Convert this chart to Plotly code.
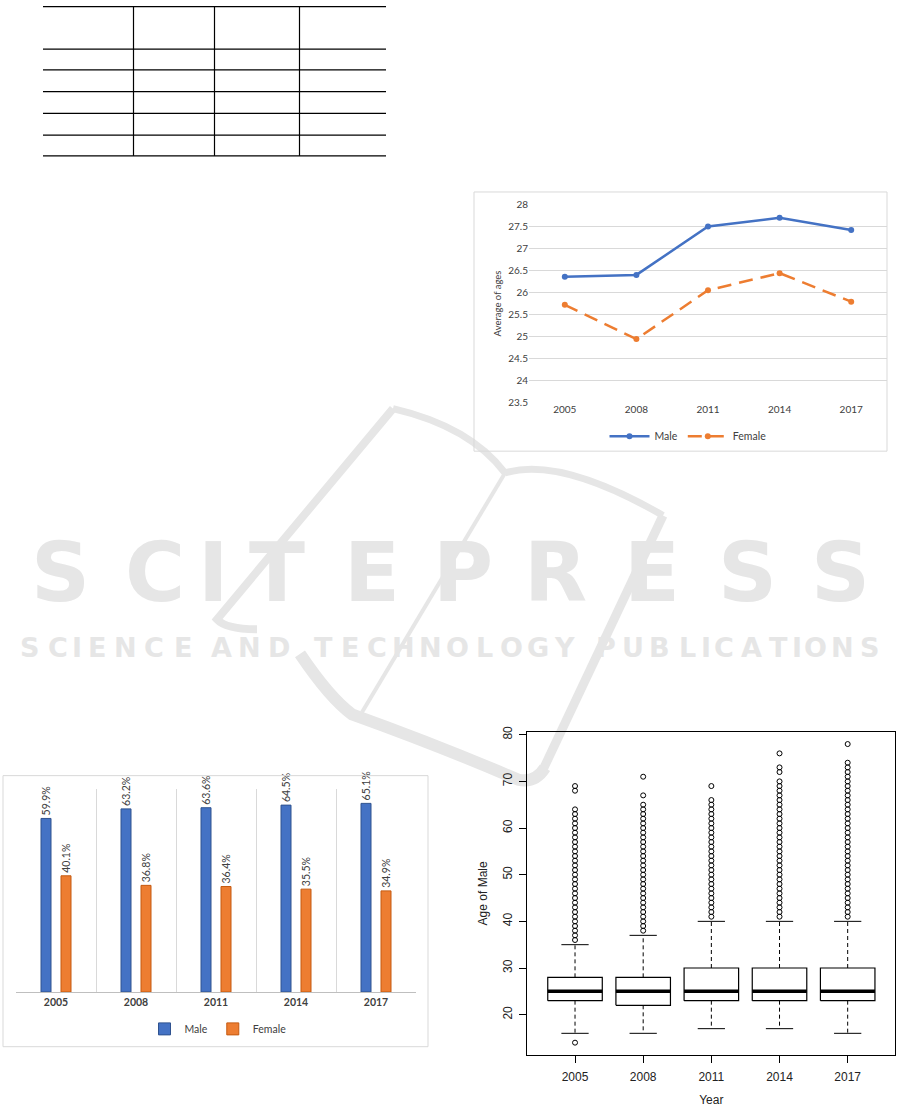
import plotly.graph_objects as go

# ---------------- data ----------------
years = ["2005", "2008", "2011", "2014", "2017"]

avg_age_male = [26.36, 26.40, 27.50, 27.70, 27.42]
avg_age_female = [25.72, 24.94, 26.05, 26.44, 25.79]

share_male = [59.9, 63.2, 63.6, 64.5, 65.1]
share_female = [40.1, 36.8, 36.4, 35.5, 34.9]

box_lower = [16, 16, 17, 17, 16]
box_q1 = [23, 22, 23, 23, 23]
box_median = [25, 25, 25, 25, 25]
box_q3 = [28, 28, 30, 30, 30]
box_upper = [35, 37, 40, 40, 40]

outliers_2005 = [14, 36, 37, 38, 39, 40, 41, 42, 43, 44, 45, 46, 47, 48, 49, 50, 51, 52, 53, 54,
                 55, 56, 57, 58, 59, 60, 61, 62, 63, 64, 68, 69]
outliers_2008 = [38, 39, 40, 41, 42, 43, 44, 45, 46, 47, 48, 49, 50, 51, 52, 53, 54, 55, 56, 57,
                 58, 59, 60, 61, 62, 63, 64, 65, 67, 71]
outliers_2011 = [41, 42, 43, 44, 45, 46, 47, 48, 49, 50, 51, 52, 53, 54, 55, 56, 57, 58, 59, 60,
                 61, 62, 63, 64, 65, 66, 69]
outliers_2014 = [41, 42, 43, 44, 45, 46, 47, 48, 49, 50, 51, 52, 53, 54, 55, 56, 57, 58, 59, 60,
                 61, 62, 63, 64, 65, 66, 67, 68, 69, 70, 72, 73, 76]
outliers_2017 = [41, 42, 43, 44, 45, 46, 47, 48, 49, 50, 51, 52, 53, 54, 55, 56, 57, 58, 59, 60,
                 61, 62, 63, 64, 65, 66, 67, 68, 69, 70, 71, 72, 73, 74, 78]
box_outliers = [outliers_2005, outliers_2008, outliers_2011, outliers_2014, outliers_2017]
box_yticks = [20, 30, 40, 50, 60, 70, 80]

# ---------------- helpers (pixel -> paper) ----------------
W, H = 901, 1116


def px(x):
    return x / W


def py(y):
    return 1 - y / H


fig = go.Figure()

# ---------------- line chart (average ages) ----------------
fig.add_trace(go.Scatter(
    x=years, y=avg_age_male, name="Male", mode="lines+markers",
    line=dict(color="#4472C4", width=2.5), marker=dict(color="#4472C4", size=6),
    xaxis="x", yaxis="y", legend="legend"))
fig.add_trace(go.Scatter(
    x=years, y=avg_age_female, name="Female", mode="lines+markers",
    line=dict(color="#ED7D31", width=2.5, dash="14px,8px"), marker=dict(color="#ED7D31", size=6),
    xaxis="x", yaxis="y", legend="legend"))

# ---------------- bar chart (gender share) ----------------
bar_w = 0.125
fig.add_trace(go.Bar(
    x=years, y=share_male, name="Male", width=bar_w, offset=-1.5 * bar_w,
    marker=dict(color="#4472C4", line=dict(color="#2F528F", width=1)),
    text=[f"{v:.1f}%" for v in share_male], textposition="outside", textangle=-90,
    constraintext="none", cliponaxis=False,
    textfont=dict(family="Lato", size=10.5, color="#404040"),
    xaxis="x2", yaxis="y2", legend="legend2"))
fig.add_trace(go.Bar(
    x=years, y=share_female, name="Female", width=bar_w, offset=0.5 * bar_w,
    marker=dict(color="#ED7D31", line=dict(color="#C55A11", width=1)),
    text=[f"{v:.1f}%" for v in share_female], textposition="outside", textangle=-90,
    constraintext="none", cliponaxis=False,
    textfont=dict(family="Lato", size=10.5, color="#404040"),
    xaxis="x2", yaxis="y2", legend="legend2"))

# ---------------- box plot (age of male) ----------------
half = 0.4
cap = 0.2
bx, by = [], []
mx, my = [], []
wx, wy = [], []
cx, cy = [], []
for i in range(len(years)):
    p = i + 1
    bx += [p - half, p + half, p + half, p - half, p - half, None]
    by += [box_q1[i], box_q1[i], box_q3[i], box_q3[i], box_q1[i], None]
    mx += [p - half, p + half, None]
    my += [box_median[i], box_median[i], None]
    wx += [p, p, None, p, p, None]
    wy += [box_q3[i], box_upper[i], None, box_q1[i], box_lower[i], None]
    cx += [p - cap, p + cap, None, p - cap, p + cap, None]
    cy += [box_upper[i], box_upper[i], None, box_lower[i], box_lower[i], None]

fig.add_trace(go.Scatter(x=wx, y=wy, mode="lines", line=dict(color="black", width=1, dash="4px,3px"),
                         showlegend=False, hoverinfo="skip", xaxis="x3", yaxis="y3"))
fig.add_trace(go.Scatter(x=cx, y=cy, mode="lines", line=dict(color="black", width=1),
                         showlegend=False, hoverinfo="skip", xaxis="x3", yaxis="y3"))
fig.add_trace(go.Scatter(x=bx, y=by, mode="lines", line=dict(color="black", width=1.2),
                         fill="toself", fillcolor="white",
                         showlegend=False, hoverinfo="skip", xaxis="x3", yaxis="y3"))
fig.add_trace(go.Scatter(x=mx, y=my, mode="lines", line=dict(color="black", width=3.5),
                         showlegend=False, hoverinfo="skip", xaxis="x3", yaxis="y3"))
ox, oy = [], []
for i, vals in enumerate(box_outliers):
    ox += [i + 1] * len(vals)
    oy += vals
fig.add_trace(go.Scatter(x=ox, y=oy, mode="markers",
                         marker=dict(symbol="circle-open", size=5, color="black", line=dict(width=1)),
                         showlegend=False, xaxis="x3", yaxis="y3"))

# ---------------- shapes ----------------
shapes = []
# empty table at top-left
for yy in [0.6, 43.5, 64.5, 86.5, 108.5, 130.5, 151.5]:
    shapes.append(dict(type="line", xref="paper", yref="paper", x0=px(43), x1=px(386),
                       y0=py(yy), y1=py(yy), line=dict(color="black", width=1.2)))
for xx in [133.5, 214.5, 299.5]:
    shapes.append(dict(type="line", xref="paper", yref="paper", x0=px(xx), x1=px(xx),
                       y0=py(0), y1=py(151.5), line=dict(color="black", width=1.2)))
# chart frames
shapes.append(dict(type="rect", xref="paper", yref="paper", x0=px(474), x1=px(887),
                   y0=py(450), y1=py(188), line=dict(color="#d9d9d9", width=1)))
shapes.append(dict(type="rect", xref="paper", yref="paper", x0=px(3), x1=px(428),
                   y0=py(1052), y1=py(778), line=dict(color="#d9d9d9", width=1)))


# watermark logo
def path(cmds):
    out = []
    for c in cmds:
        if isinstance(c, str):
            out.append(c)
        else:
            out.append(f"{px(c[0]):.5f},{py(c[1]):.5f}")
    return " ".join(out)


wm = "#e6e6e6"
logo = [
    (["M", (393, 407), "L", (217, 620), "Q", (226, 630), (257, 630)], 8),
    (["M", (393, 407), "Q", (470, 425), (505, 472)], 7),
    (["M", (505, 472), "Q", (560, 455), (663, 515)], 7),
    (["M", (663, 515), "L", (543, 772)], 9),
    (["M", (505, 472), "L", (362, 714)], 4),
    (["M", (300, 655), "Q", (330, 700), (352, 716), "Q", (440, 748), (518, 782), "Q", (535, 786), (545, 770)], 12),
]
for cmds, wdt in logo:
    shapes.append(dict(type="path", xref="paper", yref="paper", path=path(cmds), layer="below",
                       line=dict(color=wm, width=wdt)))

# watermark text (letters as annotations)
annotations = []
big_letters = list("SCITEPRESS")
big_centers = [60, 155, 213, 277, 372, 463, 555, 652, 747, 840]
for ch, xc in zip(big_letters, big_centers):
    annotations.append(dict(text=ch, x=px(xc), y=py(573), xref="paper", yref="paper",
                            showarrow=False, xanchor="center", yanchor="middle",
                            font=dict(family="DejaVu Sans", size=82, color=wm, weight="bold")))
words = [("SCIENCE", 15, 197), ("AND", 207, 293), ("TECHNOLOGY", 310, 578), ("PUBLICATIONS", 592, 883)]
for word, a, b in words:
    weights = [0.35 if ch == "I" else 1.0 for ch in word]
    tot = sum(weights)
    acc = 0.0
    for ch, wt in zip(word, weights):
        xc = a + (acc + wt / 2) / tot * (b - a)
        acc += wt
        annotations.append(dict(text=ch, x=px(xc), y=py(648), xref="paper", yref="paper",
                                showarrow=False, xanchor="center", yanchor="middle",
                                font=dict(family="DejaVu Sans", size=27, color=wm, weight="bold")))

# ---------------- layout ----------------
excel_font = "Lato"
fig.update_layout(
    width=W, height=H, margin=dict(l=0, r=0, t=0, b=0),
    paper_bgcolor="white", plot_bgcolor="rgba(0,0,0,0)",
    showlegend=True, barmode="overlay",
    shapes=shapes, annotations=annotations,
    # line chart axes
    xaxis=dict(domain=[px(529), px(887)], anchor="y", type="category", range=[-0.5, 4.5],
               showgrid=False, zeroline=False, showline=False, ticks="",
               tickfont=dict(family=excel_font, size=10, color="#404040")),
    yaxis=dict(domain=[py(400.7), py(200.7)], anchor="x", range=[23.5, 28], dtick=0.5,
               showgrid=True, gridcolor="#d9d9d9", gridwidth=1, zeroline=False, showline=False,
               ticks="", tickfont=dict(family=excel_font, size=10, color="#404040"),
               title=dict(text="Average of ages", standoff=4,
                          font=dict(family=excel_font, size=9.5, color="#404040"))),
    # bar chart axes
    xaxis2=dict(domain=[px(16), px(416)], anchor="y2", type="category", range=[-0.5, 4.5],
                tickson="boundaries", showgrid=True, gridcolor="#d9d9d9", gridwidth=1,
                showline=True, linecolor="#bfbfbf", linewidth=1, ticks="", zeroline=False,
                tickfont=dict(family=excel_font, size=10.5, color="#404040", weight="bold")),
    yaxis2=dict(domain=[py(996.7), py(791.7)], anchor="x2", range=[0, 70], visible=False,
                showgrid=False, zeroline=False),
    # box plot axes
    xaxis3=dict(domain=[px(527.3), px(895.4)], anchor="y3", range=[0.3, 5.7],
                tickvals=[1, 2, 3, 4, 5], ticktext=years, ticks="outside", ticklen=7,
                tickcolor="black", showline=True, mirror=True, linecolor="black", linewidth=1,
                showgrid=False, zeroline=False, ticklabelstandoff=4,
                tickfont=dict(family="Liberation Sans", size=12, color="#222222"),
                title=dict(text="Year", standoff=12,
                           font=dict(family="Liberation Sans", size=12, color="#222222"))),
    yaxis3=dict(domain=[py(1060), py(734)], anchor="x3", range=[11.44, 80.56],
                tickvals=box_yticks, tickangle=-90, ticks="outside", ticklen=7, tickcolor="black",
                showline=True, mirror=True, linecolor="black", linewidth=1,
                showgrid=False, zeroline=False, ticklabelstandoff=3,
                tickfont=dict(family="Liberation Sans", size=12, color="#222222"),
                title=dict(text="Age of Male", standoff=10,
                           font=dict(family="Liberation Sans", size=12, color="#222222"))),
    legend=dict(orientation="h", x=px(688), y=py(435), xanchor="center", yanchor="middle",
                bgcolor="rgba(0,0,0,0)", font=dict(family=excel_font, size=10.5, color="#404040"),
                itemwidth=40, traceorder="normal"),
    legend2=dict(orientation="h", x=px(218), y=py(1034), xanchor="center", yanchor="middle",
                 bgcolor="rgba(0,0,0,0)", font=dict(family=excel_font, size=10.5, color="#404040"),
                 itemwidth=30, traceorder="normal"),
)

page_fix = (
    "document.documentElement.style.margin='0';document.body.style.margin='0';"
    "document.documentElement.style.overflow='hidden';document.body.style.overflow='hidden';"
)
fig.write_html("out.html", config={"displayModeBar": False}, post_script=page_fix)
